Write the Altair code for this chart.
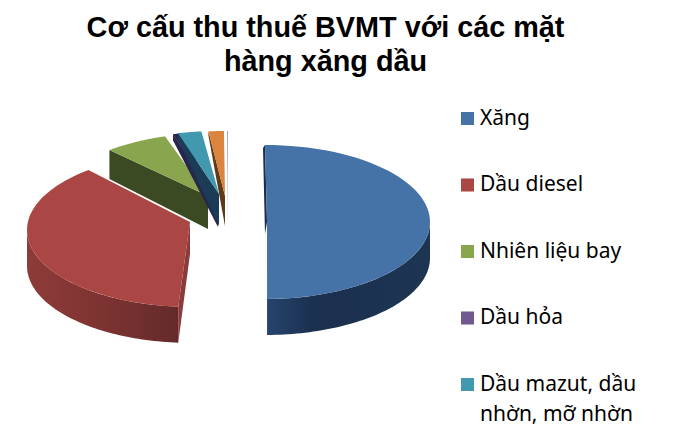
import math
import altair as alt

names = ["Xăng", "Dầu diesel", "Nhiên liệu bay", "Dầu hỏa", "Dầu mazut, dầu nhờn, mỡ nhờn", "Khác", "Khác 2"]
shares = [49.8, 39.4, 6.1, 0.8, 2.3, 1.5, 0.1]
colors = ["#4572A7", "#AA4643", "#89A54E", "#71588F", "#4198AF", "#DB843D", "#93A9CF"]
legend_names = names[:5]
legend_colors = colors[:5]

TOP, H, W, LEFT = 83, 330, 673, 8
RX, RY = 165, 77

# exploded-slice layout of the fake 3D pie (page pixels)
layout = {
    0: dict(c=(265, 223), apex=(267, 223), trim=0),
    1: dict(c=(192, 231), apex=(190, 223), trim=5.5),
    2: dict(c=(213, 211), apex=(208, 197), trim=0),
    3: dict(c=(221, 209), apex=(218, 200), trim=0),
    4: dict(c=(218, 209), apex=(219, 195), trim=0),
    5: dict(c=(225, 209), apex=(225, 197), trim=0),
    6: dict(c=(228, 209), apex=(228, 225), trim=0),
}

angles = []
acc = 0.0
for s in shares:
    angles.append((acc, acc + s * 3.6))
    acc += s * 3.6


def pt(i, t):
    cx, cy = layout[i]["c"]
    r = math.radians(t)
    return (cx + RX * math.sin(r), cy - RY * math.cos(r))


def arc(i, a0, a1, n=60):
    return [pt(i, a0 + (a1 - a0) * k / n) for k in range(n + 1)]


x_scale = alt.Scale(domain=[LEFT, LEFT + W], nice=False, zero=False)
y_scale = alt.Scale(domain=[TOP + H, TOP], nice=False, zero=False)
fill_scale = alt.Scale(domain=legend_names, range=legend_colors)
legend = alt.Legend(
    title=None, orient="none", legendX=449, legendY=26,
    symbolType="square", symbolSize=170, symbolStrokeWidth=0, symbolOpacity=1,
    labelFont="Noto Sans", labelFontSize=21, labelColor="#000000", labelLimit=240,
    labelOffset=2, rowPadding=44.5,
    labelExpr="datum.label == 'Dầu mazut, dầu nhờn, mỡ nhờn' ? ['Dầu mazut, dầu', 'nhờn, mỡ nhờn'] : datum.label",
)


def poly(points, fill=None, name=None):
    rows = [{"x": p[0], "y": p[1], "i": k, "name": name or "w"} for k, p in enumerate(points)]
    kw = dict(interpolate="linear-closed", strokeWidth=0, clip=False)
    if name is None:
        kw["fill"] = fill
    m = alt.Chart(alt.Data(values=rows)).mark_line(**kw)
    enc = dict(
        x=alt.X("x:Q", scale=x_scale, axis=None),
        y=alt.Y("y:Q", scale=y_scale, axis=None),
        order=alt.Order("i:Q"),
    )
    if name is not None:
        enc["fill"] = alt.Fill("name:N", scale=fill_scale, legend=legend)
    return m.encode(**enc)


def grad(stops):
    return alt.Gradient(
        gradient="linear", x1=0, x2=1, y1=0, y2=0,
        stops=[alt.GradientStop(offset=o, color=c) for o, c in stops],
    )


def top(i):
    a0, a1 = angles[i]
    a0 += layout[i]["trim"]
    return [layout[i]["apex"]] + arc(i, a0, a1)


def outer_wall(i, a0, a1, d):
    pts = arc(i, a0, a1)
    return pts + [(x, y + d) for x, y in reversed(pts)]


def cut_wall(i, t, d0, d1, dx=0):
    cx, cy = pt(i, t)
    ax, ay = layout[i]["apex"]
    return [(cx, cy), (ax, ay), (ax + dx, ay + d1), (cx + dx, cy + d0)]


layers = []
# back slivers
layers.append(poly(top(6), fill=colors[6]))
# green
layers.append(poly(cut_wall(2, angles[2][0], 29, 33), fill="#3B4A22"))
layers.append(poly(top(2), name=names[2]))
# purple: its top is seen almost edge-on, the dark wall covers it
layers.append(poly(top(3), name=names[3]))
layers.append(poly(top(3), fill="#28264C"))
layers.append(poly(cut_wall(3, angles[3][0], 6, 28), fill="#28264C"))
# teal
layers.append(poly(cut_wall(4, angles[4][0], 6, 32), fill="#1C3B57"))
layers.append(poly(top(4), name=names[4]))
# orange
layers.append(poly(cut_wall(5, angles[5][0], 4, 30), fill="#5E3A18"))
layers.append(poly(top(5), fill=colors[5]))
# red
red_a0 = angles[1][0] + layout[1]["trim"]
layers.append(poly(outer_wall(1, red_a0, 270, 36),
                   fill=grad([(0, "#8E3B39"), (0.45, "#7F3432"), (1, "#642A2A")])))
layers.append(poly(cut_wall(1, red_a0, 36, 32), fill="#8A3B3A"))
layers.append(poly(top(1), name=names[1]))
# blue
layers.append(poly(cut_wall(0, 0, 3, 12, dx=-2), fill="#1A2E4C"))
layers.append(poly(outer_wall(0, 90, angles[0][1], 36),
                   fill=grad([(0, "#26446E"), (0.3, "#1B2F4E"), (1, "#1D3553")])))
layers.append(poly(top(0), name=names[0]))

chart = alt.layer(*layers).properties(
    width=W, height=H, padding={"left": 0, "top": 6, "right": 0, "bottom": 0},
    title=alt.TitleParams(
        text=["Cơ cấu thu thuế BVMT với các mặt", "hàng xăng dầu"],
        font="Liberation Sans", fontSize=28.8, fontWeight="bold", color="#000000",
        lineHeight=34, anchor="middle", dx=-19, offset=5,
    ),
).configure(
    style={"guide-label": {"lineHeight": 30}},
    view=alt.ViewConfig(stroke=None),
    legend=alt.LegendConfig(symbolStrokeWidth=0),
)

chart.save("out.html", embed_options={"renderer": "svg", "actions": False})
